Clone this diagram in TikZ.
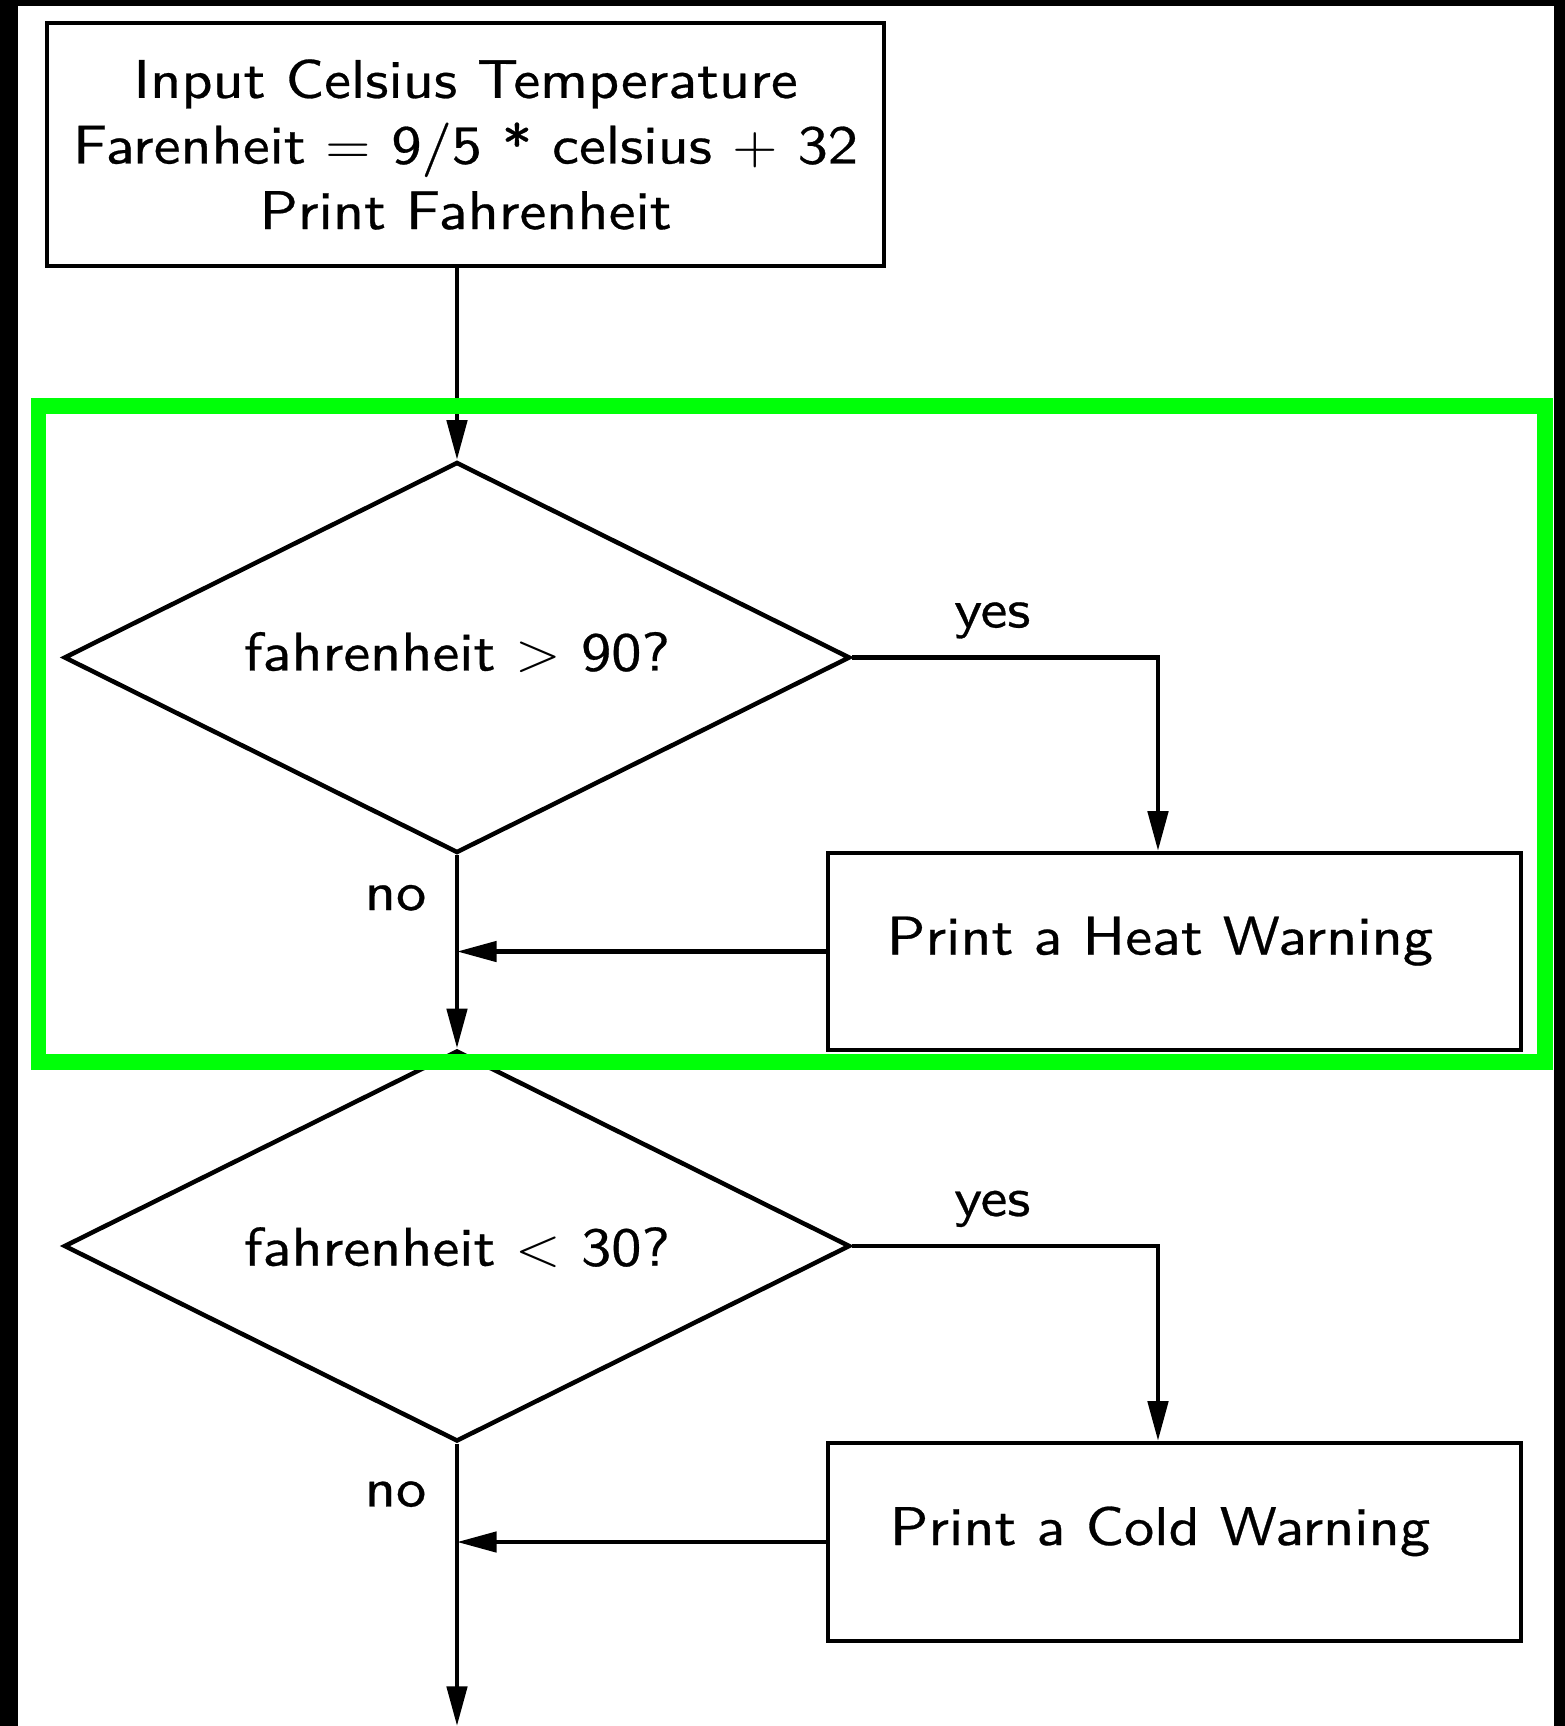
\documentclass[tikz,border=0pt]{standalone}
\usepackage{fontspec}
\usepackage{graphicx}
\setsansfont{lmsans10-regular.otf}[FakeBold=0.5]
\usetikzlibrary{shapes.geometric,arrows.meta}
\definecolor{hilite}{RGB}{0,255,8}
% slightly widened lettering
\newcommand{\sx}[1]{\scalebox{1.107}[1]{#1}}
\begin{document}
\begin{tikzpicture}[x=0.18904pt,y=-0.18904pt,
  font=\sffamily\fontsize{10.3pt}{12.4pt}\selectfont,
  line width=0.85pt,
  procbox/.style={draw, rectangle, inner sep=0pt, align=center},
  decision/.style={draw, diamond, shape aspect=2, inner sep=0pt,
    minimum width=148.6pt, minimum height=73.9pt,
    text height=4.9pt, text depth=0pt},
  arr/.style={-{Triangle[length=7.5pt,width=3.8pt]}},
  lab/.style={inner sep=0pt}]
% page frame
\useasboundingbox (0,0) rectangle (1565,1726);
\fill[black] (0,0) rectangle (1565,1726);
\fill[white] (18,6) rectangle (1554,1726);

% nodes
\node[procbox, minimum width=158.2pt, minimum height=45.9pt] (calc) at (465.5,144.5)
  {\sx{Input Celsius Temperature}\\ \sx{Farenheit $=$ 9/5 * celsius $+$ 32}\\ \sx{Print Fahrenheit}};
\node[decision] (hot) at (457,657.5) {\sx{fahrenheit $>$ 90?}};
\node[procbox, minimum width=131pt, minimum height=37.2pt,
      text height=1.13pt, text depth=0pt] (heat) at (1174.5,951.5)
  {\kern-5.5pt\sx{Print a Heat Warning}};
\node[decision, text height=7.4pt] (cold) at (457,1246) {\sx{fahrenheit $<$ 30?}};
\node[procbox, minimum width=131pt, minimum height=37.4pt,
      text height=1.13pt, text depth=0pt] (coldw) at (1174.5,1542)
  {\kern-5.5pt\sx{Print a Cold Warning}};
\coordinate (hotyes) at (1158,657.5);
\coordinate (coldyes) at (1158,1246);
\coordinate (out) at (457,1726);

% connectors
\draw[arr] (hot.north |- calc.south) -- (hot.north);
\draw[arr] (hot.east) -- node[lab, pos=0.458, anchor=base, yshift=5.7pt] {\sx{yes}} (hotyes) -- (hotyes |- heat.north);
\draw[arr] (heat.west) -- (heat.west -| hot.south);
\draw[arr] (hot.south) -- node[lab, pos=0.284, anchor=base east, xshift=-5.4pt] {\sx{no}} (cold.north);
\draw[arr] (cold.east) -- node[lab, pos=0.458, anchor=base, yshift=5.7pt] {\sx{yes}} (coldyes) -- (coldyes |- coldw.north);
\draw[arr] (coldw.west) -- (coldw.west -| cold.south);
\draw[arr] (cold.south) -- node[lab, pos=0.222, anchor=base east, xshift=-5.4pt] {\sx{no}} (out);

% highlight frame
\draw[hilite, line width=3.02pt] (38.5,405.5) rectangle (1545.3,1062);
\end{tikzpicture}
\end{document}
